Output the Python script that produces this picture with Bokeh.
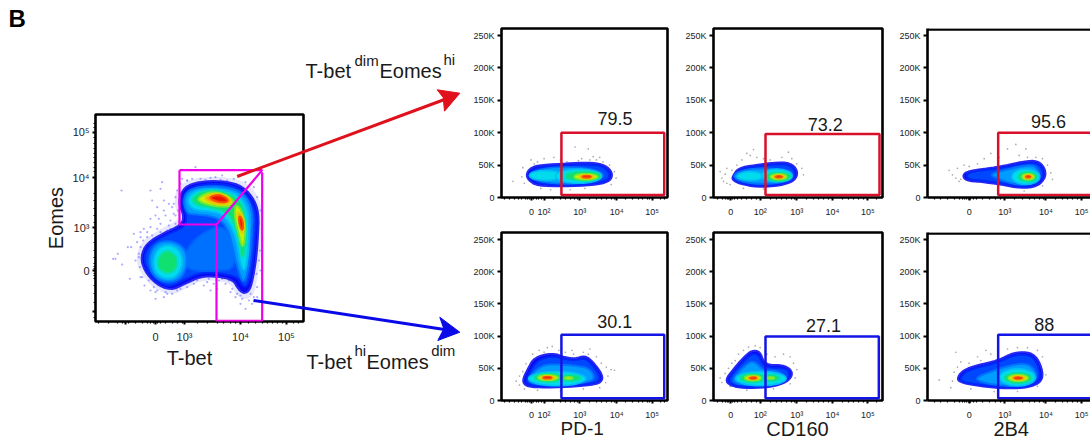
from bokeh.plotting import figure
from bokeh.layouts import row, column
from bokeh.models import Range1d, FixedTicker, Span
from bokeh.core.properties import value
from bokeh.embed import file_html
from bokeh.resources import INLINE

FONT = "Liberation Sans"
LEVELS = ["#0808f2", "#0048ff", "#009cff", "#00dcec", "#10e070", "#c8f000", "#ff9a00", "#f01000"]
EDGES = ["#2828f4", "#0028fa", "#0074ff", "#00bcf6", "#08dea8", "#70e838", "#e8c800", "#f85000"]
RED = "#d8102a"
BLUE = "#1414e6"
MAGENTA = "#f000e8"

# ---- Main T-bet / Eomes panel: display channels -------------------------------------
MAIN_XTICKS = [255, 345, 432, 600, 738]
MAIN_XLABELS = ["", "0", "10³", "10⁴", "10⁵"]
MAIN_XMINOR = [175, 205, 230, 245, 265, 285, 305, 320, 330, 338, 352, 360, 375, 395, 410, 425,
               470, 500, 530, 550, 570, 585, 625, 645, 665, 680, 695, 710, 725, 760, 775]
MAIN_YTICKS = [95, 232, 382, 510, 632]
MAIN_YLABELS = ["10⁵", "10⁴", "10³", "0", ""]
MAIN_YMINOR = [70, 82, 112, 128, 145, 158, 170, 185, 200, 212, 280, 300, 325, 345, 365, 400, 425,
               450, 470, 490, 497, 504, 518, 525, 535, 555, 580, 605, 650]

MAIN_HALO_X = [285, 305, 360, 410, 415, 400, 408, 440, 510, 575, 625, 655, 668, 665, 660, 650, 640, 610, 585, 570, 530, 480, 435, 395, 340, 298]
MAIN_HALO_Y = [470, 420, 385, 360, 345, 310, 265, 238, 228, 232, 250, 290, 340, 400, 470, 535, 585, 600, 580, 550, 540, 540, 565, 585, 565, 515]
MAIN_C0_X = [300, 318, 368, 423, 430, 414, 423, 448, 510, 572, 612, 642, 655, 653, 648, 638, 628, 610, 592, 578, 530, 480, 430, 390, 345, 312]
MAIN_C0_Y = [470, 428, 398, 373, 345, 310, 272, 250, 240, 245, 262, 298, 340, 400, 470, 532, 570, 580, 565, 538, 528, 528, 552, 570, 550, 512]
MAIN_C1_X = [309, 327, 375, 432, 439, 424, 432, 458, 510, 568, 608, 635, 647, 645, 639, 629, 617, 603, 590, 530, 480, 430, 390, 349, 320]
MAIN_C1_Y = [470, 432, 404, 380, 349, 307, 277, 258, 249, 253, 270, 305, 344, 400, 470, 531, 562, 552, 528, 517, 517, 538, 560, 544, 509]
MAIN_MID_X = [425, 465, 530, 572, 590, 520, 440]
MAIN_MID_Y = [470, 410, 375, 395, 505, 512, 510]
MAIN_C2A_X = [322, 340, 385, 432, 442, 425, 385, 340]
MAIN_C2A_Y = [480, 432, 418, 440, 485, 532, 548, 532]
MAIN_C2B_X = [428, 442, 500, 572, 614, 636, 634, 628, 618, 606, 590, 576, 566, 540, 500, 460, 438]
MAIN_C2B_Y = [300, 268, 256, 262, 282, 328, 400, 470, 534, 546, 500, 440, 395, 356, 345, 342, 338]
MAIN_C3A_X = [336, 350, 385, 420, 428, 410, 380, 345]
MAIN_C3A_Y = [482, 444, 430, 450, 492, 528, 538, 520]
MAIN_C3B_X = [438, 458, 510, 568, 604, 624, 626, 622, 612, 600, 590, 575, 545, 500, 458]
MAIN_C3B_Y = [302, 272, 264, 272, 292, 333, 400, 472, 516, 492, 430, 380, 340, 332, 328]
MAIN_C4A_X = [350, 364, 385, 406, 412, 396, 374, 354]
MAIN_C4A_Y = [482, 456, 450, 466, 492, 516, 518, 504]
MAIN_C4B_X = [450, 480, 530, 572, 600, 614, 617, 614, 604, 595, 583, 560, 510, 468]
MAIN_C4B_Y = [297, 272, 268, 282, 302, 338, 400, 455, 478, 420, 375, 335, 322, 314]
MAIN_C5A_X = [468, 510, 558, 584, 567, 520, 483]
MAIN_C5A_Y = [294, 272, 282, 305, 320, 317, 307]
MAIN_C5B_X = [583, 600, 614, 614, 606, 595, 583]
MAIN_C5B_Y = [312, 322, 365, 412, 446, 402, 355]
MAIN_C6A_X = [488, 525, 562, 574, 547, 508]
MAIN_C6A_Y = [291, 276, 288, 304, 314, 306]
MAIN_C6B_X = [589, 606, 612, 606, 597]
MAIN_C6B_Y = [332, 343, 375, 404, 376]
MAIN_C7A_X = [503, 535, 562, 560, 530]
MAIN_C7A_Y = [291, 281, 295, 306, 304]
MAIN_C7B_X = [596, 607, 608, 602, 596]
MAIN_C7B_Y = [344, 360, 387, 387, 365]
MAIN_DOT_X = [243, 330, 365, 360, 405, 385, 335, 350, 370, 395, 400, 345, 375, 390, 360, 330, 300, 280, 310, 272, 262, 290, 232, 218, 245, 268, 225, 300, 312, 340, 345, 370, 395, 420, 445, 470, 490, 510, 530, 545, 565, 575, 590, 605, 625, 615, 640, 650, 660, 655, 665, 655, 660, 650, 640, 615, 580, 545, 510, 465, 480, 440, 410, 420, 300, 295, 298, 305, 325, 350, 380, 410, 440, 460, 500, 520, 555, 570, 600, 585, 635, 650, 390, 405, 380, 350, 335, 320, 295, 285, 300, 432, 412, 400, 425, 355, 370, 385, 405, 415, 440, 455, 475, 495, 525, 540, 560, 600, 630, 648, 658, 320, 308, 330, 360, 330, 345, 375, 395, 410, 425, 505, 535]
MAIN_DOT_Y = [270, 270, 245, 265, 290, 310, 300, 320, 300, 320, 340, 345, 345, 360, 370, 355, 395, 400, 385, 440, 440, 425, 460, 475, 492, 535, 475, 530, 555, 560, 595, 590, 580, 565, 545, 540, 555, 570, 565, 535, 540, 565, 580, 595, 600, 625, 590, 560, 510, 480, 420, 370, 330, 290, 260, 245, 235, 225, 232, 200, 235, 240, 270, 250, 440, 460, 500, 530, 540, 570, 580, 570, 560, 550, 545, 550, 550, 575, 610, 590, 610, 590, 385, 370, 390, 385, 405, 410, 470, 480, 410, 330, 330, 310, 235, 355, 330, 375, 345, 365, 240, 235, 245, 238, 230, 238, 240, 585, 580, 520, 450, 395, 420, 380, 395, 570, 575, 575, 565, 555, 545, 535, 540]

# ---- Right-hand panels: x in display channels, y in thousands ------------------------
YT = [0, 50, 100, 150, 200, 250]
YT_LABELS = ["0", "50K", "100K", "150K", "200K", "250K"]
PD1_TICKS = [92, 130, 239, 352, 460]
PD1_LABELS = ["0", "10²", "10³", "10⁴", "10⁵"]
PD1_MINOR = [10, 25, 40, 52, 62, 72, 78, 84, 98, 106, 114, 122, 160, 180, 195, 210, 222, 232, 270, 290, 305, 320, 335, 345, 380, 400, 418, 432, 445, 453, 485, 497]
CD160_TICKS = [52, 140, 250, 357, 463]
CD160_LABELS = ["0", "10²", "10³", "10⁴", "10⁵"]
CD160_MINOR = [12, 28, 36, 42, 46, 50, 56, 62, 72, 85, 100, 115, 128, 170, 190, 205, 220, 235, 243, 280, 300, 315, 330, 345, 387, 405, 420, 435, 450, 490]
B4_TICKS = [125, 232, 355, 462]
B4_LABELS = ["0", "10³", "10⁴", "10⁵"]
B4_MINOR = [20, 40, 60, 80, 95, 105, 112, 118, 122, 130, 138, 148, 165, 185, 205, 220, 262, 285, 305, 320, 335, 347, 385, 405, 420, 435, 450]

GATE_HI_PD1 = [183, 497, 100, 4]
GATE_LO_PD1 = [183, 497, 102, 3.6]
GATE_HI_CD160 = [156, 498, 98, 4]
GATE_LO_CD160 = [156, 496, 99.5, 3.6]
GATE_HI_2B4 = [212, 520, 100, 4]
GATE_LO_2B4 = [212, 520, 102, 3.6]

# PD-1, T-bet dim Eomes hi
A_C0_X = [75, 84, 110, 180, 250, 300, 330, 340, 328, 280, 190, 110, 86]
A_C0_Y = [34, 44, 50, 52, 54, 53, 45, 34, 24, 19, 17, 18, 25]
A_C1_X = [84, 96, 126, 190, 250, 297, 321, 332, 320, 272, 190, 122, 96]
A_C1_Y = [34, 43, 48, 49, 51, 50, 44, 34, 25, 21, 19, 21, 26]
A_EX = [198, 135, 235, 250, 258, 260, 260]
A_EY = [34, 34, 33, 33, 32, 32, 32]
A_EW = [225, 100, 140, 110, 72, 44, 26]
A_EH = [26, 15, 22, 15, 10, 6, 3.5]
A_EL = [2, 3, 3, 4, 5, 6, 7]
A_DX = [35, 65, 62, 70, 90, 110, 130, 160, 200, 225, 265, 280, 245, 290, 310, 330, 345, 350, 335, 255, 210, 150, 120, 100, 180, 300, 270, 235]
A_DY = [25, 46, 32, 22, 58, 55, 60, 62, 55, 78, 75, 63, 60, 58, 55, 50, 40, 30, 20, 14, 12, 12, 14, 52, 58, 62, 58, 57]

# PD-1, T-bet hi Eomes dim
D_C0_X = [63, 80, 100, 155, 195, 225, 255, 280, 310, 305, 275, 205, 115, 75]
D_C0_Y = [31, 49, 67, 74, 67, 65, 70, 60, 39, 28, 24, 21, 20, 22]
D_C1_X = [72, 89, 109, 155, 195, 225, 253, 275, 302, 296, 268, 205, 118, 84]
D_C1_Y = [31, 46, 62, 70, 64, 62, 66, 57, 38, 29, 26, 23, 22, 24]
D_C2_X = [82, 102, 135, 180, 230, 268, 286, 270, 200, 120, 92]
D_C2_Y = [32, 47, 56, 56, 54, 50, 36, 29, 25, 25, 27]
D_EX = [170, 145, 208, 142, 205, 141, 140]
D_EY = [34, 35.5, 35, 35.5, 35, 35.5, 35.5]
D_EW = [175, 90, 66, 62, 26, 40, 26]
D_EH = [22, 14, 10, 9, 4, 6, 3.5]
D_EL = [3, 4, 4, 5, 5, 6, 7]
D_DX = [45, 55, 65, 75, 95, 115, 140, 155, 175, 195, 220, 250, 270, 290, 305, 320, 335, 345, 325, 318, 300, 250, 180, 110, 70, 55, 100, 130, 215, 265]
D_DY = [30, 38, 45, 57, 72, 78, 82, 84, 78, 75, 72, 75, 80, 68, 58, 52, 48, 47, 38, 28, 20, 18, 15, 16, 18, 24, 65, 75, 78, 72]

# CD160, T-bet dim Eomes hi
B_C0_X = [55, 75, 125, 180, 230, 254, 245, 200, 130, 80, 60]
B_C0_Y = [31, 46, 50, 54, 54, 41, 26, 18, 16, 21, 26]
B_C1_X = [64, 82, 128, 180, 227, 246, 238, 197, 130, 87, 68]
B_C1_Y = [31, 44, 48, 51, 51, 40, 27, 20, 18, 22, 26]
B_EX = [150, 110, 190, 195, 195, 196, 196]
B_EY = [33, 33, 34, 32, 32, 32, 32]
B_EW = [175, 78, 92, 76, 50, 32, 20]
B_EH = [24, 14, 20, 14, 9, 6, 3]
B_EL = [2, 3, 3, 4, 5, 6, 7]
B_DX = [20, 25, 30, 35, 40, 50, 55, 70, 85, 100, 110, 130, 120, 150, 170, 205, 225, 235, 250, 265, 270, 40, 90, 150]
B_DY = [40, 30, 25, 36, 22, 20, 42, 50, 58, 68, 65, 62, 74, 60, 58, 62, 70, 60, 52, 45, 35, 45, 14, 13]

# CD160, T-bet hi Eomes dim
E_C0_X = [35, 60, 90, 115, 140, 150, 170, 210, 235, 235, 210, 160, 90, 50]
E_C0_Y = [32, 49, 67, 78, 76, 60, 55, 55, 47, 36, 26, 20, 19, 23]
E_C1_X = [43, 66, 94, 116, 135, 147, 170, 206, 227, 227, 206, 160, 93, 56]
E_C1_Y = [32, 48, 63, 73, 71, 56, 51, 51, 46, 37, 28, 22, 21, 24]
E_C2_X = [56, 82, 108, 125, 150, 187, 216, 204, 160, 100, 68]
E_C2_Y = [33, 48, 60, 60, 46, 47, 38, 29, 25, 24, 26]
E_EX = [142, 118, 172, 118, 172, 118, 119]
E_EY = [34, 35, 35, 35, 35, 35, 35]
E_EW = [152, 76, 52, 50, 22, 32, 20]
E_EH = [22, 14, 10, 8.5, 3.5, 5.5, 3]
E_EL = [3, 4, 4, 5, 5, 6, 7]
E_DX = [20, 25, 35, 45, 55, 65, 75, 90, 105, 125, 140, 160, 185, 210, 230, 240, 250, 245, 230, 180, 100, 50]
E_DY = [35, 28, 42, 50, 58, 62, 72, 78, 83, 85, 82, 72, 68, 72, 68, 58, 48, 35, 26, 18, 16, 22]

# 2B4, T-bet dim Eomes hi
C_C0_X = [105, 120, 210, 290, 330, 352, 355, 330, 280, 220, 160, 115]
C_C0_Y = [34, 41, 47, 56, 57, 46, 31, 17, 14, 20, 24, 26]
C_C1_X = [114, 132, 214, 290, 326, 345, 348, 324, 280, 224, 164, 125]
C_C1_Y = [34, 40, 45, 53, 54, 45, 32, 19, 16, 22, 26, 28]
C_C2_X = [185, 238, 285, 322, 336, 334, 302, 262, 210]
C_C2_Y = [36, 43, 49, 50, 38, 26, 20, 20, 29]
C_EX = [295, 300, 302, 302, 302]
C_EY = [32, 32, 32, 32, 32]
C_EW = [84, 58, 38, 24, 14]
C_EH = [24, 16, 10, 6, 3]
C_EL = [3, 4, 5, 6, 7]
C_DX = [65, 75, 85, 90, 95, 110, 125, 150, 170, 190, 215, 240, 265, 275, 295, 300, 325, 345, 360, 370, 375, 345, 290, 150, 100]
C_DY = [42, 35, 30, 45, 25, 50, 48, 52, 60, 68, 62, 75, 82, 65, 75, 62, 62, 60, 50, 38, 28, 18, 10, 24, 28]

# 2B4, T-bet hi Eomes dim
F_C0_X = [87, 105, 150, 210, 260, 310, 335, 348, 335, 290, 220, 160, 105]
F_C0_Y = [33, 47, 55, 62, 75, 75, 62, 39, 26, 19, 19, 22, 27]
F_C1_X = [96, 114, 154, 212, 260, 306, 328, 340, 327, 287, 220, 164, 112]
F_C1_Y = [33, 45, 52, 59, 71, 71, 60, 39, 27, 21, 21, 24, 28]
F_C2_X = [145, 202, 250, 297, 322, 328, 303, 250, 192, 155]
F_C2_Y = [36, 47, 55, 58, 48, 35, 24, 22, 25, 30]
F_EX = [270, 272, 272, 272, 272]
F_EY = [36, 35, 35, 35, 35]
F_EW = [108, 82, 60, 38, 24]
F_EH = [27, 17, 11, 6.5, 3.2]
F_EL = [3, 4, 5, 6, 7]
F_DX = [35, 70, 75, 80, 90, 100, 125, 150, 175, 85, 160, 190, 210, 240, 270, 300, 330, 345, 340, 355, 330, 270, 200, 130]
F_DY = [32, 20, 30, 44, 52, 60, 58, 68, 78, 75, 62, 72, 78, 80, 82, 82, 78, 68, 50, 40, 22, 14, 14, 18]

# ---- Page-level annotation (arrows and free text) ------------------------------------
RED_SHAFT_X = [236.7, 444]
RED_SHAFT_Y = [176, 99]
RED_HEAD_X = [459.3, 436.7, 442.7, 444]
RED_HEAD_Y = [92.7, 89.3, 97, 110.7]
BLUE_SHAFT_X = [253, 444]
BLUE_SHAFT_Y = [300, 329]
BLUE_HEAD_X = [459.3, 439.3, 443.3, 437.3]
BLUE_HEAD_Y = [331.7, 316.7, 328.3, 340]
BIG_TEXT = ["T-bet", "Eomes", "T-bet", "Eomes"]
BIG_X = [305, 379, 306, 366]
BIG_Y = [70.5, 70.5, 361.5, 361.5]
SUP_TEXT = ["dim", "hi", "hi", "dim"]
SUP_X = [354, 443, 354, 430.7]
SUP_Y = [60, 59, 350, 350]
AXIS_TEXT = ["T-bet", "PD-1", "CD160", "2B4"]
AXIS_X = [189, 581.7, 797, 1010.7]
AXIS_Y = [357.5, 428, 428, 428]
AXIS_SIZE = ["20px", "19px", "20px", "20px"]


def rounded(xs, ys, passes=2):
    """Corner-cut a hand-read outline so it draws as a curve."""
    pts = list(zip(xs, ys))
    for _ in range(passes):
        new = []
        for i, a in enumerate(pts):
            b = pts[(i + 1) % len(pts)]
            new.append((0.75 * a[0] + 0.25 * b[0], 0.75 * a[1] + 0.25 * b[1]))
            new.append((0.25 * a[0] + 0.75 * b[0], 0.25 * a[1] + 0.75 * b[1]))
        pts = new
    return [q[0] for q in pts], [q[1] for q in pts]


def blob(p, level, xs, ys):
    rx, ry = rounded(xs, ys)
    p.patch(rx, ry, fill_color=LEVELS[level], line_color=EDGES[level], line_width=2)


def style_axis(ax, ticks, labels, minor, size, out):
    ax.ticker = FixedTicker(ticks=ticks, minor_ticks=minor)
    ax.major_label_overrides = dict(zip(ticks, labels))
    ax.major_label_text_font = FONT
    ax.major_label_text_font_size = size
    ax.major_label_text_color = "#222222"
    ax.major_tick_line_color = "black"
    ax.major_tick_line_width = 2
    ax.major_tick_in = 0
    ax.major_tick_out = out
    ax.minor_tick_line_color = "black"
    ax.minor_tick_line_width = 1.2
    ax.minor_tick_in = 0
    ax.minor_tick_out = 2
    ax.axis_line_color = None


# ---- Left figure ---------------------------------------------------------------------
m = figure(width=470, height=444, x_range=Range1d(165, 789), y_range=Range1d(663, 42),
           output_backend="svg", toolbar_location=None,
           min_border_left=95, min_border_right=167, min_border_top=114, min_border_bottom=123)
m.grid.visible = False
m.outline_line_color = "black"
m.outline_line_width = 2.6
style_axis(m.xaxis[0], MAIN_XTICKS, MAIN_XLABELS, MAIN_XMINOR, "11px", 3)
style_axis(m.yaxis[0], MAIN_YTICKS, MAIN_YLABELS, MAIN_YMINOR, "11px", 3)
m.xaxis.major_label_standoff = 6
m.yaxis.major_label_standoff = 3
m.yaxis.axis_label = "Eomes"
m.yaxis.axis_label_text_font = FONT
m.yaxis.axis_label_text_font_size = "20px"
m.yaxis.axis_label_text_font_style = "normal"
m.yaxis.axis_label_text_color = "#1a1a1a"
m.yaxis.axis_label_standoff = 3

hx, hy = rounded(MAIN_HALO_X, MAIN_HALO_Y)
m.patch(hx, hy, fill_color="#c8c8ff", fill_alpha=0.45, line_color=None)
m.scatter(MAIN_DOT_X, MAIN_DOT_Y, size=2.2, fill_color="#5a5aff", line_color=None, alpha=0.5)
blob(m, 0, MAIN_C0_X, MAIN_C0_Y)
blob(m, 1, MAIN_C1_X, MAIN_C1_Y)
m_mid_x, m_mid_y = rounded(MAIN_MID_X, MAIN_MID_Y)
m.patch(m_mid_x, m_mid_y, fill_color="#0070ff", line_color="#0060ff", line_width=2)
for lev, xs, ys in [(2, MAIN_C2A_X, MAIN_C2A_Y), (2, MAIN_C2B_X, MAIN_C2B_Y),
                    (3, MAIN_C3A_X, MAIN_C3A_Y), (3, MAIN_C3B_X, MAIN_C3B_Y),
                    (4, MAIN_C4A_X, MAIN_C4A_Y), (4, MAIN_C4B_X, MAIN_C4B_Y),
                    (5, MAIN_C5A_X, MAIN_C5A_Y), (5, MAIN_C5B_X, MAIN_C5B_Y),
                    (6, MAIN_C6A_X, MAIN_C6A_Y), (6, MAIN_C6B_X, MAIN_C6B_Y),
                    (7, MAIN_C7A_X, MAIN_C7A_Y), (7, MAIN_C7B_X, MAIN_C7B_Y)]:
    blob(m, lev, xs, ys)

m.line([417, 665, 528, 417, 417], [209, 209, 372, 372, 209], line_color=MAGENTA, line_width=2.2)
m.line([528, 528, 665, 665], [372, 661, 661, 215], line_color=MAGENTA, line_width=2.2)


def panel(width, height, left, right, top, bottom, xend, ticks, labels, minor, open_right=False):
    p = figure(width=width, height=height, x_range=Range1d(0, xend), y_range=Range1d(0, 261),
               output_backend="svg", toolbar_location=None,
               min_border_left=left, min_border_right=right, min_border_top=top, min_border_bottom=bottom)
    p.grid.visible = False
    style_axis(p.xaxis[0], ticks, labels, minor, "9px", 3)
    style_axis(p.yaxis[0], YT, YT_LABELS, [25, 75, 125, 175, 225], "9px", 4)
    p.yaxis.minor_tick_out = 0
    p.xaxis.major_label_standoff = 6
    p.yaxis.major_label_standoff = 3
    if open_right:
        p.outline_line_color = None
        p.xaxis.axis_line_color = "black"
        p.xaxis.axis_line_width = 2.6
        p.yaxis.axis_line_color = "black"
        p.yaxis.axis_line_width = 2.6
        p.add_layout(Span(location=259.5, dimension="width", line_color="black", line_width=2.6))
    else:
        p.outline_line_color = "black"
        p.outline_line_width = 2.6
    return p


def fill_panel(p, dx, dy, polys, ex, ey, ew, eh, el, gate, color, val, vx, vy):
    p.scatter(dx, dy, size=1.7, fill_color="#666666", line_color=None, alpha=0.55)
    for lev, xs, ys in polys:
        blob(p, lev, xs, ys)
    p.ellipse(ex, ey, width=ew, height=eh,
              fill_color=[LEVELS[i] for i in el], line_color=[EDGES[i] for i in el], line_width=1.6)
    p.quad(left=[gate[0]], right=[gate[1]], top=[gate[2]], bottom=[gate[3]],
           fill_color=None, line_color=color, line_width=2.5)
    p.text([vx], [vy], text=[val], text_font=value(FONT), text_font_size="18px", text_color="#1a1a1a",
           text_align="center", text_baseline="alphabetic")


a = panel(210, 222, 28, 13, 28, 25, 507, PD1_TICKS, PD1_LABELS, PD1_MINOR)
b = panel(210, 222, 33, 8, 28, 25, 507, CD160_TICKS, CD160_LABELS, CD160_MINOR)
c = panel(200, 222, 37, 0, 28, 25, 489, B4_TICKS, B4_LABELS, B4_MINOR, open_right=True)
d = panel(210, 222, 28, 13, 10, 44, 507, PD1_TICKS, PD1_LABELS, PD1_MINOR)
e = panel(210, 222, 33, 8, 10, 44, 507, CD160_TICKS, CD160_LABELS, CD160_MINOR)
f = panel(200, 222, 37, 0, 10, 44, 489, B4_TICKS, B4_LABELS, B4_MINOR, open_right=True)

fill_panel(a, A_DX, A_DY, [(0, A_C0_X, A_C0_Y), (1, A_C1_X, A_C1_Y)], A_EX, A_EY, A_EW, A_EH, A_EL,
           GATE_HI_PD1, RED, "79.5", 347, 122)
fill_panel(b, B_DX, B_DY, [(0, B_C0_X, B_C0_Y), (1, B_C1_X, B_C1_Y)], B_EX, B_EY, B_EW, B_EH, B_EL,
           GATE_HI_CD160, RED, "73.2", 335, 113)
fill_panel(c, C_DX, C_DY, [(0, C_C0_X, C_C0_Y), (1, C_C1_X, C_C1_Y), (2, C_C2_X, C_C2_Y)],
           C_EX, C_EY, C_EW, C_EH, C_EL, GATE_HI_2B4, RED, "95.6", 363, 118)
fill_panel(d, D_DX, D_DY, [(0, D_C0_X, D_C0_Y), (1, D_C1_X, D_C1_Y), (2, D_C2_X, D_C2_Y)],
           D_EX, D_EY, D_EW, D_EH, D_EL, GATE_LO_PD1, BLUE, "30.1", 346, 122)
fill_panel(e, E_DX, E_DY, [(0, E_C0_X, E_C0_Y), (1, E_C1_X, E_C1_Y), (2, E_C2_X, E_C2_Y)],
           E_EX, E_EY, E_EW, E_EH, E_EL, GATE_LO_CD160, BLUE, "27.1", 330, 117)
fill_panel(f, F_DX, F_DY, [(0, F_C0_X, F_C0_Y), (1, F_C1_X, F_C1_Y), (2, F_C2_X, F_C2_Y)],
           F_EX, F_EY, F_EW, F_EH, F_EL, GATE_LO_2B4, BLUE, "88", 350, 118)

# ---- Transparent page-sized figure, laid over the panels, for everything between them --
over = figure(width=1090, height=444, x_range=Range1d(0, 1090), y_range=Range1d(444, 0),
              x_axis_location=None, y_axis_location=None, output_backend="svg", toolbar_location=None,
              min_border=0, background_fill_color=None, border_fill_color=None, outline_line_color=None,
              styles={"position": "absolute", "left": "0px", "top": "0px", "z-index": "5", "pointer-events": "none"})
over.grid.visible = False
over.line(RED_SHAFT_X, RED_SHAFT_Y, line_color="#e0101c", line_width=3)
over.patch(RED_HEAD_X, RED_HEAD_Y, fill_color="#e0101c", line_color="#e0101c")
over.line(BLUE_SHAFT_X, BLUE_SHAFT_Y, line_color="#0a0ae8", line_width=3)
over.patch(BLUE_HEAD_X, BLUE_HEAD_Y, fill_color="#0a0ae8", line_color="#0a0ae8")
over.text([8], [18], text=["B"], text_font=value(FONT), text_font_size="24px", text_font_style="bold",
          text_color="black", text_baseline="alphabetic")
over.text(BIG_X, BIG_Y, text=BIG_TEXT, text_font=value(FONT), text_font_size="20px", text_color="#1a1a1a",
          text_baseline="alphabetic")
over.text(SUP_X, SUP_Y, text=SUP_TEXT, text_font=value(FONT), text_font_size="15px", text_color="#1a1a1a",
          text_baseline="alphabetic")
over.text(AXIS_X, AXIS_Y, text=AXIS_TEXT, text_font=value(FONT), text_font_size=AXIS_SIZE, text_color="#1a1a1a",
          text_align="center", text_baseline="alphabetic")

panels = row(m, column(row(a, b, c, spacing=0), row(d, e, f, spacing=0), spacing=0), spacing=0)
page = column(over, panels, spacing=0)
open("out.html", "w").write(file_html(page, INLINE))
